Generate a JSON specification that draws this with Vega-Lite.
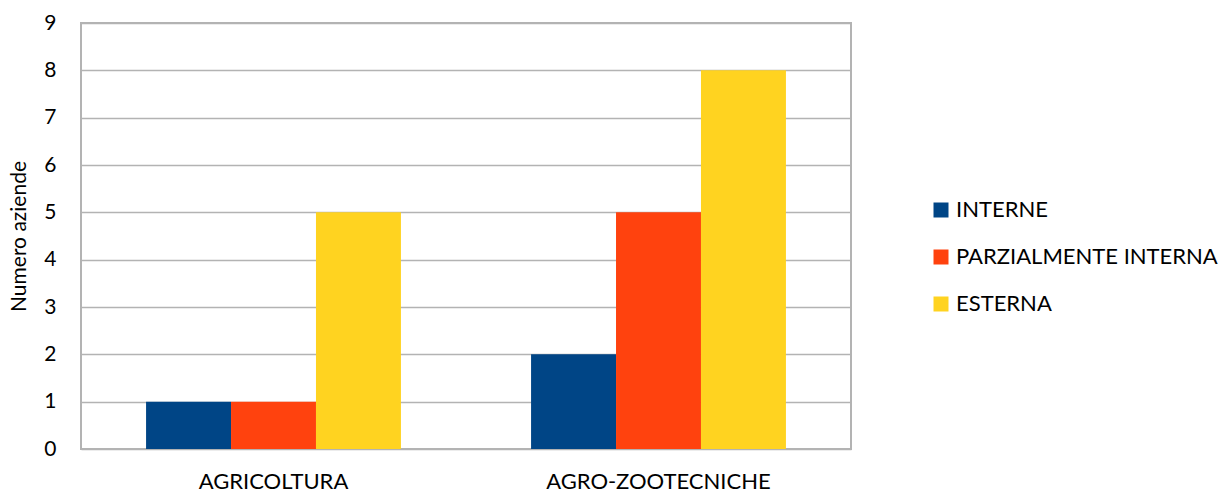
{
  "$schema": "https://vega.github.io/schema/vega-lite/v6.json",
  "width": 770,
  "height": 426,
  "autosize": {"type": "none"},
  "padding": {"left": 81, "top": 23, "right": 373, "bottom": 46},
  "background": "white",
  "config": {
    "font": "Lato",
    "view": {"stroke": "#b3b3b3", "strokeWidth": 2}
  },
  "data": {
    "values": [
      {"categoria": "AGRICOLTURA", "tipo": "INTERNE", "valore": 1},
      {"categoria": "AGRICOLTURA", "tipo": "PARZIALMENTE INTERNA", "valore": 1},
      {"categoria": "AGRICOLTURA", "tipo": "ESTERNA", "valore": 5},
      {"categoria": "AGRO-ZOOTECNICHE", "tipo": "INTERNE", "valore": 2},
      {"categoria": "AGRO-ZOOTECNICHE", "tipo": "PARZIALMENTE INTERNA", "valore": 5},
      {"categoria": "AGRO-ZOOTECNICHE", "tipo": "ESTERNA", "valore": 8}
    ]
  },
  "mark": {"type": "bar"},
  "encoding": {
    "x": {
      "field": "categoria",
      "type": "nominal",
      "sort": null,
      "scale": {"paddingInner": 0.338, "paddingOuter": 0.169},
      "axis": {
        "title": null,
        "labelAngle": 0,
        "labelFontSize": 22,
        "labelColor": "#000000",
        "labelPadding": 22,
        "labelLimit": 400,
        "ticks": false,
        "domain": false
      }
    },
    "xOffset": {
      "field": "tipo",
      "type": "nominal",
      "sort": ["INTERNE", "PARZIALMENTE INTERNA", "ESTERNA"],
      "scale": {"paddingInner": 0, "paddingOuter": 0}
    },
    "y": {
      "field": "valore",
      "type": "quantitative",
      "scale": {"domain": [0, 9], "nice": false},
      "axis": {
        "title": "Numero aziende",
        "titleFontSize": 21,
        "titleFontWeight": "normal",
        "titleColor": "#000000",
        "titlePadding": 14,
        "values": [0, 1, 2, 3, 4, 5, 6, 7, 8, 9],
        "labelFontSize": 21,
        "labelColor": "#000000",
        "labelPadding": 25,
        "ticks": false,
        "domain": false,
        "gridColor": "#b3b3b3",
        "gridWidth": 1.5
      }
    },
    "color": {
      "field": "tipo",
      "type": "nominal",
      "sort": ["INTERNE", "PARZIALMENTE INTERNA", "ESTERNA"],
      "scale": {
        "domain": ["INTERNE", "PARZIALMENTE INTERNA", "ESTERNA"],
        "range": ["#004586", "#ff420e", "#ffd320"]
      },
      "legend": {
        "title": null,
        "orient": "none",
        "legendX": 849,
        "legendY": 176,
        "symbolType": "square",
        "symbolSize": 225,
        "symbolStrokeWidth": 0,
        "labelFontSize": 22,
        "labelColor": "#000000",
        "labelOffset": 4,
        "rowPadding": 25,
        "labelLimit": 400
      }
    }
  }
}
